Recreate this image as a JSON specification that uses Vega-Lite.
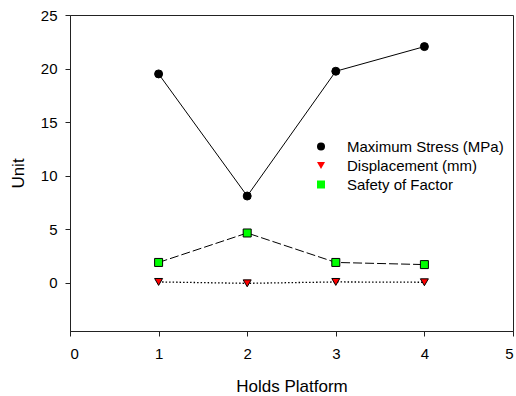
{
  "$schema": "https://vega.github.io/schema/vega-lite/v6.json",
  "width": 443,
  "height": 316,
  "autosize": "none",
  "padding": {"left": 70, "top": 15, "right": 3, "bottom": 65},
  "background": "white",
  "config": {
    "font": "Liberation Sans",
    "view": {"stroke": "#222", "strokeWidth": 1},
    "axis": {
      "grid": false,
      "domainColor": "#222",
      "tickColor": "#222",
      "tickSize": 5,
      "labelColor": "black",
      "titleColor": "black",
      "labelFontSize": 15,
      "titleFontSize": 17,
      "titleFontWeight": "normal"
    },
    "legend": {
      "orient": "none",
      "legendX": 243.5,
      "legendY": 124,
      "padding": 0,
      "labelFontSize": 15,
      "labelColor": "black",
      "labelOffset": 18.5,
      "rowPadding": 3,
      "symbolSize": 64,
      "symbolStrokeWidth": 1,
      "symbolStrokeColor": "black"
    }
  },
  "data": {
    "values": [
      {"platform": 1, "value": 19.5, "series": "Maximum Stress (MPa)"},
      {"platform": 2, "value": 8.1, "series": "Maximum Stress (MPa)"},
      {"platform": 3, "value": 19.75, "series": "Maximum Stress (MPa)"},
      {"platform": 4, "value": 22.05, "series": "Maximum Stress (MPa)"},
      {"platform": 1, "value": 0.08, "series": "Displacement (mm)"},
      {"platform": 2, "value": -0.05, "series": "Displacement (mm)"},
      {"platform": 3, "value": 0.08, "series": "Displacement (mm)"},
      {"platform": 4, "value": 0.05, "series": "Displacement (mm)"},
      {"platform": 1, "value": 1.9, "series": "Safety of Factor"},
      {"platform": 2, "value": 4.65, "series": "Safety of Factor"},
      {"platform": 3, "value": 1.9, "series": "Safety of Factor"},
      {"platform": 4, "value": 1.7, "series": "Safety of Factor"}
    ]
  },
  "encoding": {
    "x": {
      "field": "platform",
      "type": "quantitative",
      "scale": {"domain": [0, 5], "nice": false, "zero": false},
      "axis": {
        "title": "Holds Platform",
        "values": [0, 1, 2, 3, 4, 5],
        "labelPadding": 10.5,
        "titleBaseline": "alphabetic",
        "titleY": 60
      }
    },
    "y": {
      "field": "value",
      "type": "quantitative",
      "scale": {"domain": [-4.5, 25], "nice": false, "zero": false},
      "axis": {
        "title": "Unit",
        "values": [0, 5, 10, 15, 20, 25],
        "labelPadding": 8,
        "titleBaseline": "alphabetic",
        "titleX": -47
      }
    }
  },
  "layer": [
    {
      "transform": [{"filter": "datum.series === 'Maximum Stress (MPa)'"}],
      "mark": {"type": "line", "stroke": "black", "strokeWidth": 1},
      "encoding": {}
    },
    {
      "transform": [{"filter": "datum.series === 'Displacement (mm)'"}],
      "mark": {"type": "line", "stroke": "black", "strokeWidth": 1.3, "strokeDash": [1.5, 2]},
      "encoding": {}
    },
    {
      "transform": [{"filter": "datum.series === 'Safety of Factor'"}],
      "mark": {"type": "line", "stroke": "black", "strokeWidth": 1, "strokeDash": [9, 3]},
      "encoding": {}
    },
    {
      "mark": {"type": "point", "filled": true, "size": 64, "opacity": 1, "stroke": "black", "strokeWidth": 1},
      "encoding": {
        "fill": {
          "field": "series",
          "type": "nominal",
          "scale": {
            "domain": ["Maximum Stress (MPa)", "Displacement (mm)", "Safety of Factor"],
            "range": ["#000000", "#ff0000", "#00ff00"]
          },
          "legend": {"title": null}
        },
        "shape": {
          "field": "series",
          "type": "nominal",
          "scale": {
            "domain": ["Maximum Stress (MPa)", "Displacement (mm)", "Safety of Factor"],
            "range": ["circle", "triangle-down", "square"]
          },
          "legend": {"title": null}
        }
      }
    }
  ]
}
